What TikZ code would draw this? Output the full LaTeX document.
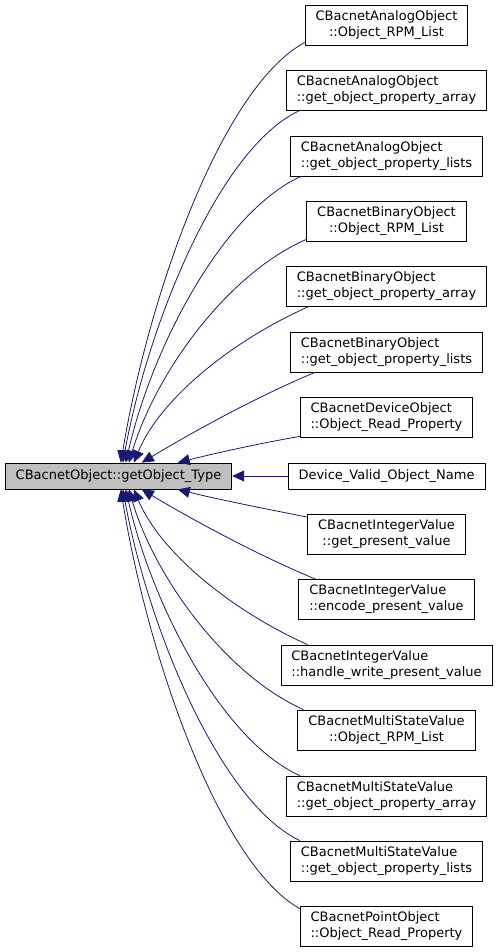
\documentclass[tikz,border=0pt]{standalone}
\usepackage{fontspec}
\setmainfont{DejaVu Sans}
\usetikzlibrary{arrows.meta}
\definecolor{edgeblue}{HTML}{191970}
\definecolor{maingray}{HTML}{BFBFBF}
\newlength\twowa
\newlength\twowb
\newcommand\twol[2]{\settowidth\twowa{#1}\settowidth\twowb{#2}\ifdim\twowa<\twowb\twowa=\twowb\fi\parbox{\twowa}{\raggedright#1\par\centering#2}}
\tikzset{
  box/.style={draw=black, line width=0.8pt, fill=white, inner xsep=10.5pt, inner ysep=0pt, font=\fontsize{13}{16}\selectfont},
  two/.style={box, minimum height=40pt},
  one/.style={box, minimum height=26pt},
  edge/.style={draw=edgeblue, line width=0.8pt, -{Triangle[length=12pt,width=11pt,fill=edgeblue]}}
}
\begin{document}
\begin{tikzpicture}[x=1pt,y=-1pt]
\useasboundingbox (0,0) rectangle (499,952);
\node[one, fill=maingray] (main) at (118.5,476) {CBacnetObject::getObject\_Type};
\node[two] (n1) at (386.5,25) {\twol{CBacnetAnalogObject}{::Object\_RPM\_List}};
\node[two] (n2) at (386.5,90.5) {\twol{CBacnetAnalogObject}{::get\_object\_property\_array}};
\node[two] (n3) at (386.5,156) {\twol{CBacnetAnalogObject}{::get\_object\_property\_lists}};
\node[two] (n4) at (386.5,221) {\twol{CBacnetBinaryObject}{::Object\_RPM\_List}};
\node[two] (n5) at (386.5,286.5) {\twol{CBacnetBinaryObject}{::get\_object\_property\_array}};
\node[two] (n6) at (386.5,352) {\twol{CBacnetBinaryObject}{::get\_object\_property\_lists}};
\node[two] (n7) at (386.5,417) {\twol{CBacnetDeviceObject}{::Object\_Read\_Property}};
\node[one] (n8) at (386.5,476) {Device\_Valid\_Object\_Name};
\node[two] (n9) at (386.5,534.5) {\twol{CBacnetIntegerValue}{::get\_present\_value}};
\node[two] (n10) at (386.5,599.5) {\twol{CBacnetIntegerValue}{::encode\_present\_value}};
\node[two] (n11) at (386.5,665) {\twol{CBacnetIntegerValue}{::handle\_write\_present\_value}};
\node[two] (n12) at (386.5,730) {\twol{CBacnetMultiStateValue}{::Object\_RPM\_List}};
\node[two] (n13) at (386.5,796) {\twol{CBacnetMultiStateValue}{::get\_object\_property\_array}};
\node[two] (n14) at (386.5,861) {\twol{CBacnetMultiStateValue}{::get\_object\_property\_lists}};
\node[two] (n15) at (386.5,926) {\twol{CBacnetPointObject}{::Object\_Read\_Property}};
% upper edges
\draw[edge] ([yshift=3pt]n1.south west) .. controls +(-83,45) and +(28,-168) .. ([xshift=116pt]main.north west);
\draw[edge] ([xshift=13pt]n2.south west) .. controls +(-79,37) and +(26,-141) .. ([xshift=118pt]main.north west);
\draw[edge] ([xshift=11pt]n3.south west) .. controls +(-78,35) and +(26,-115) .. ([xshift=121pt]main.north west);
\draw[edge] ([yshift=2pt]n4.south west) .. controls +(-80,35) and +(27,-89) .. ([xshift=124pt]main.north west);
\draw[edge] ([xshift=22pt]n5.south west) .. controls +(-78,35) and +(26,-63) .. ([xshift=129pt]main.north west);
\draw[edge] ([xshift=25pt]n6.south west) .. controls +(-60,25) and +(50,-30) .. ([xshift=137pt]main.north west);
\draw[edge] ([yshift=1pt]n7.south west) .. controls +(-40,7) and +(40,-10) .. ([xshift=173pt]main.north west);
% middle
\draw[edge] (n8.west) -- (main.east);
% lower edges
\draw[edge] ([yshift=-3pt]n9.north west) .. controls +(-40,-8) and +(40,10) .. ([xshift=173pt]main.south west);
\draw[edge] ([xshift=17pt]n10.north west) .. controls +(-60,-25) and +(50,30) .. ([xshift=137pt]main.south west);
\draw[edge] ([xshift=27pt]n11.north west) .. controls +(-78,-35) and +(26,62) .. ([xshift=129pt]main.south west);
\draw[edge] ([xshift=6pt]n12.north west) .. controls +(-78,-35) and +(26,88) .. ([xshift=124pt]main.south west);
\draw[edge] ([xshift=14pt]n13.north west) .. controls +(-78,-35) and +(26,115) .. ([xshift=121pt]main.south west);
\draw[edge] ([xshift=10pt]n14.north west) .. controls +(-79,-37) and +(26,141) .. ([xshift=118pt]main.south west);
\draw[edge] ([yshift=-3pt]n15.north west) .. controls +(-80,-45) and +(27,168) .. ([xshift=116pt]main.south west);
\end{tikzpicture}
\end{document}
